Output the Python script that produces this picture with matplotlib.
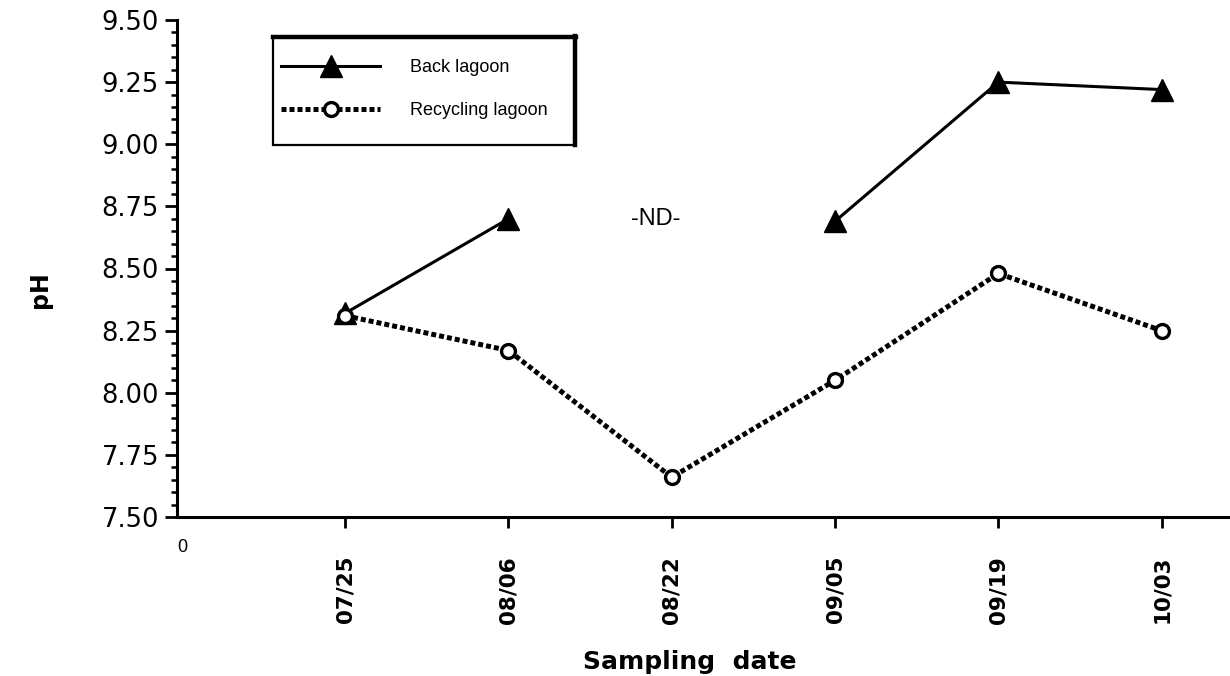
import matplotlib
matplotlib.use("Agg")
import matplotlib.pyplot as plt
import matplotlib.transforms as mtransforms
from matplotlib.patches import Rectangle
from matplotlib.lines import Line2D
from matplotlib.ticker import MultipleLocator, FixedLocator

# ---- data ----
dates = ["07/25", "08/06", "08/22", "09/05", "09/19", "10/03"]
back_lagoon = [8.32, 8.70, None, 8.69, 9.25, 9.22]
recycling_lagoon = [8.31, 8.17, 7.66, 8.05, 8.48, 8.25]
y_ticks = [7.50, 7.75, 8.00, 8.25, 8.50, 8.75, 9.00, 9.25, 9.50]
nd_label = "-ND-"

plt.rcParams['font.family'] = ['Liberation Sans', 'DejaVu Sans']

W, H = 1230, 676
fig = plt.figure(figsize=(W / 100, H / 100), dpi=100)
ax_l, ax_r, ax_b, ax_t = 177, 1240, 517, 20
ax = fig.add_axes([ax_l / W, 1 - ax_b / H, (ax_r - ax_l) / W, (ax_b - ax_t) / H])

x = list(range(1, len(dates) + 1))

# Back lagoon: split at the missing value
seg_x, seg_y = [], []
segments = []
for xi, yi in zip(x, back_lagoon):
    if yi is None:
        if seg_x:
            segments.append((seg_x, seg_y))
        seg_x, seg_y = [], []
    else:
        seg_x.append(xi)
        seg_y.append(yi)
if seg_x:
    segments.append((seg_x, seg_y))
for sx, sy in segments:
    ax.plot(sx, sy, color='black', lw=2.2, marker='^', markersize=16,
            markerfacecolor='black', markeredgecolor='black', zorder=3)

ax.plot(x, recycling_lagoon, color='black', lw=3.6, linestyle=(0, (1, 0.6)),
        marker='o', markersize=10, markerfacecolor='white',
        markeredgecolor='black', markeredgewidth=2.4, zorder=4)

ax.set_xlim(-0.03, 6.48)
ax.set_ylim(7.5, 9.5)

for s in ['top', 'right']:
    ax.spines[s].set_visible(False)
for s in ['left', 'bottom']:
    ax.spines[s].set_linewidth(2.2)

ax.yaxis.set_major_locator(FixedLocator(y_ticks))
ax.yaxis.set_minor_locator(MultipleLocator(0.05))
ax.set_yticklabels([f"{v:.2f}" for v in y_ticks], family=['DejaVu Sans'])
ax.tick_params(axis='y', which='major', direction='out', length=9, width=2,
               labelsize=18.5, pad=4)
ax.tick_params(axis='y', which='minor', direction='out', length=4, width=1.8)

ax.set_xticks(x)
ax.set_xticklabels(dates, rotation=90, fontsize=15.5, fontweight='bold',
                   family=['DejaVu Sans'])
ax.tick_params(axis='x', which='major', direction='out', length=8, width=2, pad=20)
for lab in ax.get_xticklabels():
    lab.set_va('top')

trans = mtransforms.blended_transform_factory(ax.transData, ax.transAxes)
ax.text(0, -0.045, "0", transform=trans, ha='center', va='top', fontsize=13)

ax.text(2.9, 8.70, nd_label, ha='center', va='center', fontsize=17,
        family=['Liberation Sans Narrow', 'Liberation Sans'])

fig.text(40 / W, 1 - 290 / H, "pH", rotation=90, ha='center', va='center',
         fontsize=17, fontweight='bold', family=['DejaVu Sans'])
fig.text(690 / W, 1 - 662 / H, "Sampling  date", ha='center', va='center',
         fontsize=18, fontweight='bold', family=['DejaVu Sans'])

# legend box with heavy top/right edge
px = lambda X, Y: (X / W, 1 - Y / H)
box = Rectangle(px(273, 145), 302 / W, 108 / H, transform=fig.transFigure,
                fill=True, facecolor='white', edgecolor='black', lw=1.6, zorder=5)
fig.patches.append(box)
fig.add_artist(Line2D([273 / W, 576 / W], [1 - 37 / H, 1 - 37 / H], color='black',
                      lw=3.2, transform=fig.transFigure, zorder=6))
fig.add_artist(Line2D([575 / W, 575 / W], [1 - 36 / H, 1 - 145 / H], color='black',
                      lw=3.2, transform=fig.transFigure, zorder=6))

h1 = Line2D([], [], color='black', lw=2.2, marker='^', markersize=16,
            markerfacecolor='black')
h2 = Line2D([], [], color='black', lw=3.6, linestyle=(0, (1, 0.6)), marker='o',
            markersize=10, markerfacecolor='white', markeredgewidth=2.4)
leg = fig.legend([h1, h2], ["Back lagoon", "Recycling lagoon"],
                 loc='center left', bbox_to_anchor=(px(281, 89)),
                 frameon=False, borderpad=0, borderaxespad=0,
                 handlelength=5.5, handletextpad=1.65, labelspacing=1.45,
                 prop={'family': ['Liberation Sans Narrow', 'Liberation Sans'],
                       'size': 13})
leg.set_zorder(7)

fig.savefig("out.png", dpi=100)
